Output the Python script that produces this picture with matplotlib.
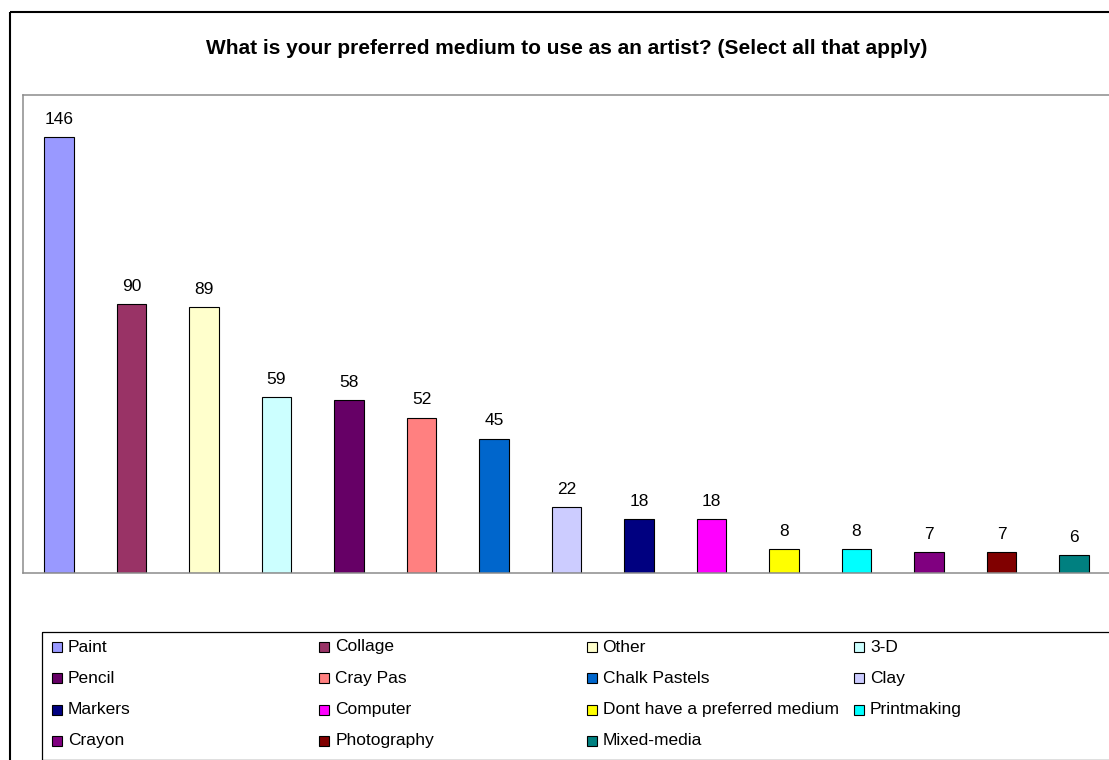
import matplotlib
matplotlib.use("Agg")
import matplotlib.pyplot as plt
from matplotlib.patches import Rectangle

plt.rcParams['font.family'] = ['Liberation Sans', 'DejaVu Sans']

title = "What is your preferred medium to use as an artist? (Select all that apply)"
categories = ["Paint", "Collage", "Other", "3-D", "Pencil", "Cray Pas",
              "Chalk Pastels", "Clay", "Markers", "Computer",
              "Dont have a preferred medium", "Printmaking", "Crayon",
              "Photography", "Mixed-media"]
counts = [146, 90, 89, 59, 58, 52, 45, 22, 18, 18, 8, 8, 7, 7, 6]
colors = ["#9999FF", "#993366", "#FFFFCC", "#CCFFFF", "#660066", "#FF8080",
          "#0066CC", "#CCCCFF", "#000080", "#FF00FF", "#FFFF00", "#00FFFF",
          "#800080", "#800000", "#008080"]

W, H = 1109, 760
fig = plt.figure(figsize=(W / 100, H / 100), dpi=100)
fig.patch.set_facecolor("white")

# overlay in pixel units for chart frame, title and legend
ov = fig.add_axes([0, 0, 1, 1], zorder=0)
ov.set_xlim(0, W)
ov.set_ylim(H, 0)
ov.axis("off")

# chart area border (runs off the right and bottom edge)
ov.add_patch(Rectangle((9.5, 12), W + 20, H + 20, fill=False,
                       ec="black", lw=1.5, clip_on=False))

ov.text(566.5, 48, title, ha="center", va="center", fontsize=15,
        fontweight="bold", color="black")

# plot area
left_px, top_px, bottom_px = 22.75, 95, 573
n = len(categories)
slot = 72.5
ax = fig.add_axes([left_px / W, (H - bottom_px) / H,
                   n * slot / W, (bottom_px - top_px) / H], zorder=1)
ax.set_facecolor("none")
x = list(range(n))
bars = ax.bar(x, counts, width=0.41, color=colors, edgecolor="black",
              linewidth=0.8)
ax.set_xlim(-0.5, n - 0.5)
ax.set_ylim(0, 160)
ax.set_xticks([])
ax.set_yticks([])
for s in ax.spines.values():
    s.set_color("#8c8c8c")
    s.set_linewidth(1.1)
ax.spines["right"].set_visible(False)

for xi, v in zip(x, counts):
    ax.annotate(f"{v}", (xi, v), xytext=(0, 9.5), textcoords="offset points",
                ha="center", va="baseline", fontsize=12.5, color="black")

# legend: four columns, filled row by row
ov.add_patch(Rectangle((41.7, 632.3), W + 20, 127.2, fill=False,
                       ec="black", lw=0.9, clip_on=False))
col_x0, col_step = 52, 267.3
row_y0, row_step = 647, 31.3
for i, (name, c) in enumerate(zip(categories, colors)):
    r, k = divmod(i, 4)
    mx = col_x0 + k * col_step
    my = row_y0 + r * row_step
    ov.add_patch(Rectangle((mx, my - 5), 10, 10, fc=c, ec="black", lw=0.8))
    ov.text(mx + 16, my, name, ha="left", va="center", fontsize=12.5,
            color="black")

fig.savefig("out.png", dpi=100)
